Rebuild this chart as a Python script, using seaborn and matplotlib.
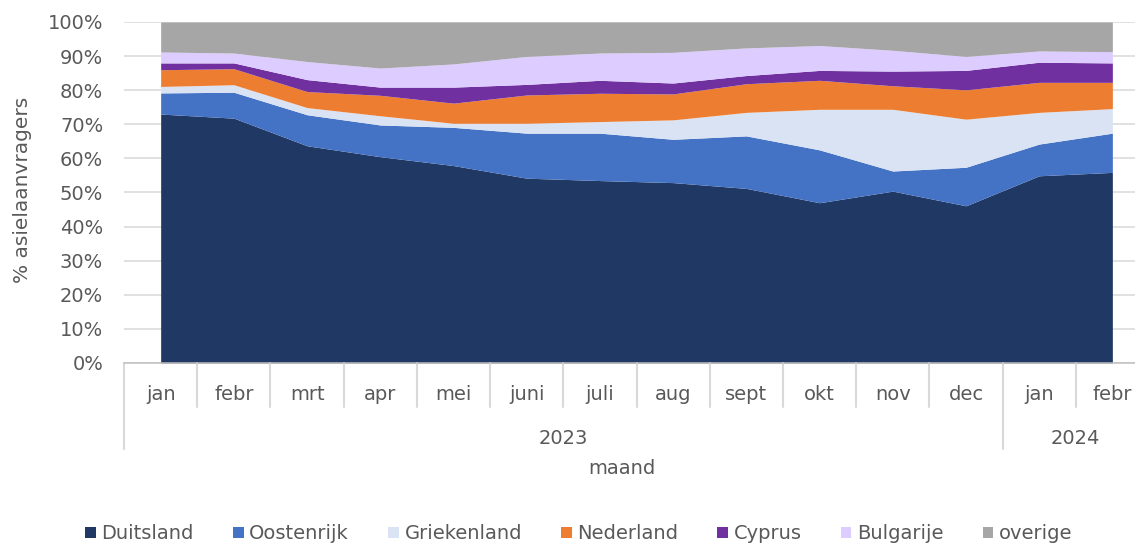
import matplotlib.pyplot as plt
import seaborn as sns
from matplotlib.ticker import PercentFormatter

months = ["jan", "febr", "mrt", "apr", "mei", "juni", "juli", "aug", "sept", "okt", "nov", "dec", "jan", "febr"]
years = ["2023", "2024"]
months_per_year = [12, 2]

# shares in % per month
duitsland = [73.0, 71.8, 63.7, 60.5, 57.9, 54.2, 53.5, 52.9, 51.2, 47.0, 50.4, 46.1, 54.9, 55.9]
oostenrijk = [6.2, 7.6, 9.1, 9.3, 11.2, 13.2, 13.9, 12.7, 15.4, 15.5, 5.9, 11.3, 9.3, 11.5]
griekenland = [1.9, 2.2, 2.1, 2.7, 1.2, 2.9, 3.4, 5.7, 6.9, 11.9, 18.1, 14.1, 9.3, 7.2]
nederland = [4.9, 4.7, 4.7, 6.0, 5.9, 8.3, 8.3, 7.6, 8.4, 8.5, 6.9, 8.6, 8.8, 7.7]
cyprus = [2.0, 1.7, 3.5, 2.4, 4.7, 3.1, 3.8, 3.2, 2.4, 2.9, 4.3, 5.7, 5.9, 5.7]
bulgarije = [3.2, 2.9, 5.3, 5.6, 6.8, 8.2, 8.0, 9.0, 8.1, 7.3, 6.1, 4.1, 3.3, 3.3]
overige = [8.8, 9.1, 11.6, 13.5, 12.3, 10.1, 9.1, 8.9, 7.6, 6.9, 8.3, 10.1, 8.5, 8.7]

series = [duitsland, oostenrijk, griekenland, nederland, cyprus, bulgarije, overige]
labels = ["Duitsland", "Oostenrijk", "Griekenland", "Nederland", "Cyprus", "Bulgarije", "overige"]
colors = ["#203864", "#4472C4", "#DAE3F3", "#ED7D31", "#7030A0", "#DDCCFF", "#A6A6A6"]

sns.set_theme(style="whitegrid")
plt.rcParams['font.family'] = ['DejaVu Sans']
grey = "#595959"

fig = plt.figure(figsize=(11.35, 5.43), dpi=100)
ax = fig.add_axes([0.1093, 0.3315, 0.903, 0.628])

x = list(range(len(months)))
ax.stackplot(x, [[v / 100 for v in s] for s in series], labels=labels, colors=colors, linewidth=0)

ax.set_xlim(-0.5, len(months) - 0.5)
ax.set_ylim(0, 1)
ax.set_yticks([i / 10 for i in range(11)])
ax.yaxis.set_major_formatter(PercentFormatter(1.0, decimals=0))
ax.grid(axis="x", visible=False)
ax.grid(axis="y", color="#D9D9D9", linewidth=1.1)
ax.set_facecolor("white")
sns.despine(ax=ax, left=True, top=True, right=True)
ax.spines["bottom"].set_color("#BFBFBF")
ax.spines["bottom"].set_linewidth(1.1)

ax.tick_params(axis="y", length=0, pad=15, labelsize=14, labelcolor=grey)
ax.set_xticks(x)
ax.set_xticklabels(months)
ax.tick_params(axis="x", length=0, pad=16, labelsize=14, labelcolor=grey)

ax.set_ylabel("% asielaanvragers", fontsize=14.5, color=grey)
ax.yaxis.set_label_coords(-0.09, 0.507)

# category separators
trans = ax.get_xaxis_transform()
year_edges = [-0.5]
for n in months_per_year:
    year_edges.append(year_edges[-1] + n)
for k in range(len(months) + 1):
    edge = k - 0.5
    bottom = -0.252 if edge in year_edges else -0.129
    ax.plot([edge, edge], [0, bottom], transform=trans, color="#D9D9D9",
            linewidth=1.5, clip_on=False)

for i, yr in enumerate(years):
    mid = (year_edges[i] + year_edges[i + 1]) / 2
    ax.text(mid, -0.222, yr, transform=trans, ha="center", va="center",
            fontsize=14, color=grey)

ax.text(0.5 * (len(months) - 1) - 0.2, -0.31, "maand", transform=trans, ha="center",
        va="center", fontsize=14, color=grey)

handles, lbls = ax.get_legend_handles_labels()
fig.legend(handles, lbls, loc="center", bbox_to_anchor=(0.51, 0.017), ncol=7,
           frameon=False, fontsize=14, labelcolor=grey, handlelength=0.55,
           handleheight=0.55, handletextpad=0.3, columnspacing=2.0)

fig.savefig("out.png", dpi=100)
